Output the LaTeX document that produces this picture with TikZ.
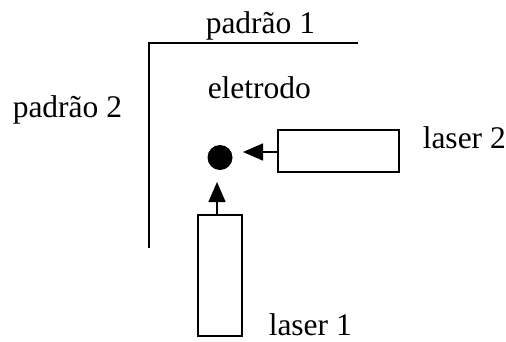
\documentclass[tikz,border=0pt]{standalone}
\usepackage{fontspec}
\setmainfont{Liberation Serif}
\usetikzlibrary{arrows.meta}
\begin{document}
\begin{tikzpicture}[x=1pt,y=-1pt,line width=1.5pt,
  lbl/.style={anchor=base west,inner sep=0pt,font=\fontsize{31.5}{38}\selectfont},
  laserbox/.style={draw,fill=white,line width=1.5pt},
  beam/.style={-{Triangle[length=20pt,width=17pt]},line width=1.5pt}]
\useasboundingbox (0,0) rectangle (506,341);
\coordinate (c1) at (149,248);
\coordinate (c2) at (149,43);
\coordinate (c3) at (358,43);
\draw (c1) -- (c2) -- (c3);
\node[lbl] (p1) at (205,33) {padrão 1};
\node[lbl] (p2) at (12,117) {padrão 2};
\node[lbl] (el) at (207,98) {eletrodo};
\node[lbl] (l2) at (422,148) {laser 2};
\node[lbl] (l1) at (268,335) {laser 1};
\node[circle,fill=black,inner sep=0pt,minimum size=25pt] (dot) at (220,157.5) {};
\node[laserbox,minimum width=121pt,minimum height=42pt,inner sep=0pt] (b2) at (338.5,151) {};
\node[laserbox,minimum width=44pt,minimum height=121pt,inner sep=0pt] (b1) at (220,275.5) {};
\coordinate (t2) at (243,152);
\coordinate (t1) at (217,182);
\draw[beam] (b2.west |- 0,152) -- (t2);
\draw[beam] (b1.north -| t1) -- (t1);
\end{tikzpicture}
\end{document}
